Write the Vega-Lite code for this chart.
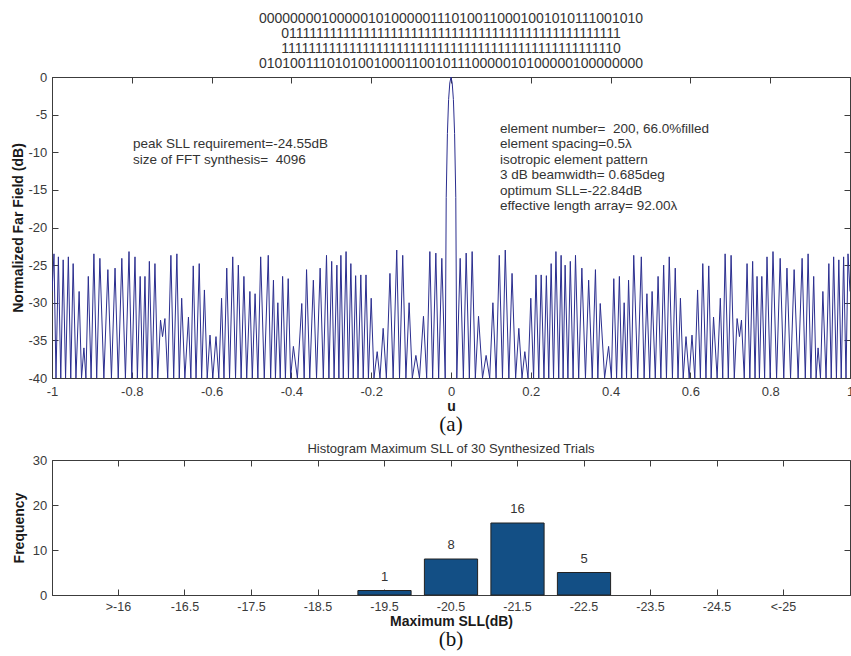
{
  "$schema": "https://vega.github.io/schema/vega-lite/v6.json",
  "background": "white",
  "padding": {"left": 11, "top": 11, "right": 0, "bottom": 0},
  "autosize": {"type": "pad"},
  "align": "all",
  "spacing": 6,
  "datasets": {
    "pattern": [
      {"u":-1.000,"dB":-28.5},
      {"u":-0.995,"dB":-23.5},{"u":-0.990,"dB":-40},
      {"u":-0.984,"dB":-23.9},{"u":-0.978,"dB":-40},
      {"u":-0.972,"dB":-24.3},{"u":-0.966,"dB":-40},
      {"u":-0.959,"dB":-23.9},{"u":-0.953,"dB":-40},
      {"u":-0.947,"dB":-24.8},{"u":-0.940,"dB":-40},
      {"u":-0.932,"dB":-28.5},{"u":-0.926,"dB":-40},
      {"u":-0.920,"dB":-36.0},{"u":-0.915,"dB":-40},
      {"u":-0.909,"dB":-26.5},{"u":-0.902,"dB":-40},
      {"u":-0.895,"dB":-23.5},{"u":-0.888,"dB":-40},
      {"u":-0.880,"dB":-24.1},{"u":-0.870,"dB":-40},
      {"u":-0.860,"dB":-25.6},{"u":-0.851,"dB":-40},
      {"u":-0.842,"dB":-25.4},{"u":-0.834,"dB":-40},
      {"u":-0.825,"dB":-24.1},{"u":-0.816,"dB":-40},
      {"u":-0.807,"dB":-23.2},{"u":-0.800,"dB":-40},
      {"u":-0.792,"dB":-23.9},{"u":-0.786,"dB":-40},
      {"u":-0.779,"dB":-26.5},{"u":-0.773,"dB":-40},
      {"u":-0.767,"dB":-26.5},{"u":-0.762,"dB":-40},
      {"u":-0.756,"dB":-24.5},{"u":-0.749,"dB":-40},
      {"u":-0.742,"dB":-24.8},{"u":-0.735,"dB":-40},
      {"u":-0.728,"dB":-32.3},{"u":-0.723,"dB":-34.5},
      {"u":-0.717,"dB":-32.1},{"u":-0.710,"dB":-40},
      {"u":-0.702,"dB":-23.7},{"u":-0.695,"dB":-40},
      {"u":-0.687,"dB":-23.5},{"u":-0.681,"dB":-40},
      {"u":-0.675,"dB":-29.4},{"u":-0.667,"dB":-40},
      {"u":-0.658,"dB":-31.9},{"u":-0.652,"dB":-40},
      {"u":-0.646,"dB":-25.1},{"u":-0.639,"dB":-40},
      {"u":-0.631,"dB":-24.8},{"u":-0.625,"dB":-40},
      {"u":-0.618,"dB":-28.3},{"u":-0.611,"dB":-40},
      {"u":-0.604,"dB":-34.3},{"u":-0.597,"dB":-40},
      {"u":-0.589,"dB":-34.5},{"u":-0.582,"dB":-40},
      {"u":-0.575,"dB":-29.4},{"u":-0.569,"dB":-40},
      {"u":-0.562,"dB":-25.4},{"u":-0.555,"dB":-40},
      {"u":-0.547,"dB":-23.9},{"u":-0.540,"dB":-40},
      {"u":-0.533,"dB":-25.0},{"u":-0.526,"dB":-40},
      {"u":-0.519,"dB":-26.5},{"u":-0.512,"dB":-40},
      {"u":-0.504,"dB":-28.5},{"u":-0.498,"dB":-40},
      {"u":-0.491,"dB":-28.8},{"u":-0.484,"dB":-40},
      {"u":-0.477,"dB":-23.9},{"u":-0.468,"dB":-40},
      {"u":-0.458,"dB":-23.7},{"u":-0.452,"dB":-40},
      {"u":-0.445,"dB":-27.0},{"u":-0.440,"dB":-40},
      {"u":-0.434,"dB":-30.0},{"u":-0.428,"dB":-40},
      {"u":-0.422,"dB":-26.5},{"u":-0.415,"dB":-40},
      {"u":-0.408,"dB":-26.8},{"u":-0.402,"dB":-40},
      {"u":-0.395,"dB":-35.8},{"u":-0.385,"dB":-40},
      {"u":-0.374,"dB":-30.1},{"u":-0.368,"dB":-40},
      {"u":-0.362,"dB":-25.6},{"u":-0.354,"dB":-40},
      {"u":-0.345,"dB":-27.0},{"u":-0.337,"dB":-40},
      {"u":-0.328,"dB":-25.4},{"u":-0.320,"dB":-40},
      {"u":-0.312,"dB":-23.7},{"u":-0.306,"dB":-40},
      {"u":-0.299,"dB":-24.5},{"u":-0.293,"dB":-40},
      {"u":-0.286,"dB":-25.0},{"u":-0.281,"dB":-40},
      {"u":-0.276,"dB":-23.7},{"u":-0.270,"dB":-40},
      {"u":-0.263,"dB":-23.2},{"u":-0.257,"dB":-40},
      {"u":-0.251,"dB":-24.8},{"u":-0.245,"dB":-40},
      {"u":-0.239,"dB":-26.4},{"u":-0.233,"dB":-40},
      {"u":-0.226,"dB":-26.3},{"u":-0.220,"dB":-40},
      {"u":-0.213,"dB":-26.3},{"u":-0.207,"dB":-40},
      {"u":-0.200,"dB":-29.4},{"u":-0.193,"dB":-40},
      {"u":-0.185,"dB":-36.5},{"u":-0.178,"dB":-40},
      {"u":-0.170,"dB":-33.4},{"u":-0.162,"dB":-40},
      {"u":-0.153,"dB":-26.1},{"u":-0.145,"dB":-40},
      {"u":-0.136,"dB":-23.0},{"u":-0.129,"dB":-40},
      {"u":-0.121,"dB":-23.7},{"u":-0.113,"dB":-40},
      {"u":-0.105,"dB":-30.0},{"u":-0.097,"dB":-40},
      {"u":-0.088,"dB":-37.0},{"u":-0.079,"dB":-40},
      {"u":-0.069,"dB":-31.8},{"u":-0.061,"dB":-40},
      {"u":-0.053,"dB":-23.2},{"u":-0.046,"dB":-40},
      {"u":-0.038,"dB":-23.4},{"u":-0.031,"dB":-40},
      {"u":-0.023,"dB":-24.1},{"u":-0.0145,"dB":-40},
      {"u":-0.012,"dB":-16},{"u":-0.009,"dB":-7.5},{"u":-0.006,"dB":-3},{"u":-0.003,"dB":-0.8},
      {"u":0,"dB":0},
      {"u":0.003,"dB":-0.8},{"u":0.006,"dB":-3},{"u":0.009,"dB":-7.5},{"u":0.012,"dB":-16},
      {"u":0.0145,"dB":-40},{"u":0.023,"dB":-24.1},
      {"u":0.031,"dB":-40},{"u":0.038,"dB":-23.4},
      {"u":0.046,"dB":-40},{"u":0.053,"dB":-23.2},
      {"u":0.061,"dB":-40},{"u":0.069,"dB":-31.8},
      {"u":0.079,"dB":-40},{"u":0.088,"dB":-37.0},
      {"u":0.097,"dB":-40},{"u":0.105,"dB":-30.0},
      {"u":0.113,"dB":-40},{"u":0.121,"dB":-23.7},
      {"u":0.129,"dB":-40},{"u":0.136,"dB":-23.0},
      {"u":0.145,"dB":-40},{"u":0.153,"dB":-26.1},
      {"u":0.162,"dB":-40},{"u":0.170,"dB":-33.4},
      {"u":0.178,"dB":-40},{"u":0.185,"dB":-36.5},
      {"u":0.193,"dB":-40},{"u":0.200,"dB":-29.4},
      {"u":0.207,"dB":-40},{"u":0.213,"dB":-26.3},
      {"u":0.220,"dB":-40},{"u":0.226,"dB":-26.3},
      {"u":0.233,"dB":-40},{"u":0.239,"dB":-26.4},
      {"u":0.245,"dB":-40},{"u":0.251,"dB":-24.8},
      {"u":0.257,"dB":-40},{"u":0.263,"dB":-23.2},
      {"u":0.270,"dB":-40},{"u":0.276,"dB":-23.7},
      {"u":0.281,"dB":-40},{"u":0.286,"dB":-25.0},
      {"u":0.293,"dB":-40},{"u":0.299,"dB":-24.5},
      {"u":0.306,"dB":-40},{"u":0.312,"dB":-23.7},
      {"u":0.320,"dB":-40},{"u":0.328,"dB":-25.4},
      {"u":0.337,"dB":-40},{"u":0.345,"dB":-27.0},
      {"u":0.354,"dB":-40},{"u":0.362,"dB":-25.6},
      {"u":0.368,"dB":-40},{"u":0.374,"dB":-30.1},
      {"u":0.385,"dB":-40},{"u":0.395,"dB":-35.8},
      {"u":0.402,"dB":-40},{"u":0.408,"dB":-26.8},
      {"u":0.415,"dB":-40},{"u":0.422,"dB":-26.5},
      {"u":0.428,"dB":-40},{"u":0.434,"dB":-30.0},
      {"u":0.440,"dB":-40},{"u":0.445,"dB":-27.0},
      {"u":0.452,"dB":-40},{"u":0.458,"dB":-23.7},
      {"u":0.468,"dB":-40},{"u":0.477,"dB":-23.9},
      {"u":0.484,"dB":-40},{"u":0.491,"dB":-28.8},
      {"u":0.498,"dB":-40},{"u":0.504,"dB":-28.5},
      {"u":0.512,"dB":-40},{"u":0.519,"dB":-26.5},
      {"u":0.526,"dB":-40},{"u":0.533,"dB":-25.0},
      {"u":0.540,"dB":-40},{"u":0.547,"dB":-23.9},
      {"u":0.555,"dB":-40},{"u":0.562,"dB":-25.4},
      {"u":0.569,"dB":-40},{"u":0.575,"dB":-29.4},
      {"u":0.582,"dB":-40},{"u":0.589,"dB":-34.5},
      {"u":0.597,"dB":-40},{"u":0.604,"dB":-34.3},
      {"u":0.611,"dB":-40},{"u":0.618,"dB":-28.3},
      {"u":0.625,"dB":-40},{"u":0.631,"dB":-24.8},
      {"u":0.639,"dB":-40},{"u":0.646,"dB":-25.1},
      {"u":0.652,"dB":-40},{"u":0.658,"dB":-31.9},
      {"u":0.667,"dB":-40},{"u":0.675,"dB":-29.4},
      {"u":0.681,"dB":-40},{"u":0.687,"dB":-23.5},
      {"u":0.695,"dB":-40},{"u":0.702,"dB":-23.7},
      {"u":0.710,"dB":-40},{"u":0.717,"dB":-32.1},
      {"u":0.723,"dB":-34.5},{"u":0.728,"dB":-32.3},
      {"u":0.735,"dB":-40},{"u":0.742,"dB":-24.8},
      {"u":0.749,"dB":-40},{"u":0.756,"dB":-24.5},
      {"u":0.762,"dB":-40},{"u":0.767,"dB":-26.5},
      {"u":0.773,"dB":-40},{"u":0.779,"dB":-26.5},
      {"u":0.786,"dB":-40},{"u":0.792,"dB":-23.9},
      {"u":0.800,"dB":-40},{"u":0.807,"dB":-23.2},
      {"u":0.816,"dB":-40},{"u":0.825,"dB":-24.1},
      {"u":0.834,"dB":-40},{"u":0.842,"dB":-25.4},
      {"u":0.851,"dB":-40},{"u":0.860,"dB":-25.6},
      {"u":0.870,"dB":-40},{"u":0.880,"dB":-24.1},
      {"u":0.888,"dB":-40},{"u":0.895,"dB":-23.5},
      {"u":0.902,"dB":-40},{"u":0.909,"dB":-26.5},
      {"u":0.915,"dB":-40},{"u":0.920,"dB":-36.0},
      {"u":0.926,"dB":-40},{"u":0.932,"dB":-28.5},
      {"u":0.940,"dB":-40},{"u":0.947,"dB":-24.8},
      {"u":0.953,"dB":-40},{"u":0.959,"dB":-23.9},
      {"u":0.966,"dB":-40},{"u":0.972,"dB":-24.3},
      {"u":0.978,"dB":-40},{"u":0.984,"dB":-23.9},
      {"u":0.990,"dB":-40},{"u":0.995,"dB":-23.5},
      {"u":1.000,"dB":-28.5}
    ],
    "hist": [
      {"bin": ">-16", "count": 0},
      {"bin": "-16.5", "count": 0},
      {"bin": "-17.5", "count": 0},
      {"bin": "-18.5", "count": 0},
      {"bin": "-19.5", "count": 1},
      {"bin": "-20.5", "count": 8},
      {"bin": "-21.5", "count": 16},
      {"bin": "-22.5", "count": 5},
      {"bin": "-23.5", "count": 0},
      {"bin": "-24.5", "count": 0},
      {"bin": "<-25", "count": 0}
    ]
  },
  "vconcat": [
    {
      "width": 798,
      "height": 301,
      "title": {
        "text": [
          "00000000100000101000001110100110001001010111001010",
          "01111111111111111111111111111111111111111111111111",
          "11111111111111111111111111111111111111111111111110",
          "01010011101010010001100101110000010100000100000000"
        ],
        "font": "Liberation Sans",
        "fontSize": 14,
        "fontWeight": "normal",
        "color": "#333333",
        "lineHeight": 15,
        "offset": 0,
        "anchor": "middle"
      },
      "layer": [
        {
          "data": {"name": "pattern"},
          "mark": {"type": "line", "color": "#2b2e8f", "strokeWidth": 1, "clip": true},
          "encoding": {
            "x": {
              "field": "u", "type": "quantitative",
              "scale": {"domain": [-1, 1], "nice": false, "zero": false},
              "axis": {
                "orient": "bottom",
                "values": [-1, -0.8, -0.6, -0.4, -0.2, 0, 0.2, 0.4, 0.6, 0.8, 1],
                "format": "~g",
                "labelPadding": 13.3,
                "title": "u",
                "titlePadding": 1
              }
            },
            "y": {
              "field": "dB", "type": "quantitative",
              "scale": {"domain": [-40, 0], "nice": false, "zero": false},
              "axis": {
                "orient": "left",
                "values": [-40, -35, -30, -25, -20, -15, -10, -5, 0],
                "format": "~g",
                "labelPadding": 11.3,
                "title": "Normalized Far Field (dB)",
                "titlePadding": 2
              }
            }
          }
        },
        {
          "data": {"values": [{}]},
          "mark": {
            "type": "text",
            "text": ["peak SLL requirement=-24.55dB", "size of FFT synthesis=\u00a0 4096"],
            "align": "left", "baseline": "middle", "lineHeight": 15.5,
            "font": "Liberation Sans", "fontSize": 13.5, "color": "#333333"
          },
          "encoding": {
            "x": {
              "datum": -0.797, "type": "quantitative",
              "axis": {"orient": "top", "labels": false, "title": null, "domain": false,
                       "values": [-1, -0.8, -0.6, -0.4, -0.2, 0, 0.2, 0.4, 0.6, 0.8, 1]}
            },
            "y": {
              "datum": -8.97, "type": "quantitative",
              "axis": {"orient": "right", "labels": false, "title": null, "domain": false,
                       "values": [-40, -35, -30, -25, -20, -15, -10, -5, 0]}
            }
          }
        },
        {
          "data": {"values": [{}]},
          "mark": {
            "type": "text",
            "text": [
              "element number=\u00a0 200, 66.0%filled",
              "element spacing=0.5λ",
              "isotropic element pattern",
              "3 dB beamwidth= 0.685deg",
              "optimum SLL=-22.84dB",
              "effective length array= 92.00λ"
            ],
            "align": "left", "baseline": "middle", "lineHeight": 15.5,
            "font": "Liberation Sans", "fontSize": 13.5, "color": "#333333"
          },
          "encoding": {
            "x": {"datum": 0.1228, "type": "quantitative", "axis": null},
            "y": {"datum": -6.91, "type": "quantitative", "axis": null}
          }
        },
        {
          "data": {"values": [{}]},
          "mark": {
            "type": "text", "text": "(a)", "align": "center", "baseline": "middle",
            "font": "Liberation Serif", "fontSize": 21, "color": "#111111"
          },
          "encoding": {
            "x": {"datum": 0, "type": "quantitative", "axis": null},
            "y": {"datum": -46.25, "type": "quantitative", "axis": null}
          }
        }
      ],
      "resolve": {"axis": {"x": "independent", "y": "independent"}}
    },
    {
      "width": 798,
      "height": 135,
      "title": {
        "text": "Histogram Maximum SLL of 30 Synthesized Trials",
        "font": "Liberation Sans",
        "fontSize": 13,
        "fontWeight": "normal",
        "color": "#333333",
        "offset": -2,
        "anchor": "middle"
      },
      "layer": [
        {
          "data": {"name": "hist"},
          "transform": [{"filter": "datum.count > 0"}],
          "mark": {"type": "bar", "color": "#134f85", "stroke": "#222222", "strokeWidth": 1},
          "encoding": {
            "x": {
              "field": "bin", "type": "nominal", "sort": null,
              "scale": {
                "domain": [">-16", "-16.5", "-17.5", "-18.5", "-19.5", "-20.5", "-21.5", "-22.5", "-23.5", "-24.5", "<-25"],
                "paddingInner": 0.2, "paddingOuter": 0.6
              },
              "axis": {
                "orient": "bottom", "labelAngle": 0, "bandPosition": 0.5,
                "labelFontSize": 12.5, "labelPadding": 11,
                "title": "Maximum SLL(dB)", "titlePadding": 2
              }
            },
            "y": {
              "field": "count", "type": "quantitative",
              "scale": {"domain": [0, 30], "nice": false},
              "axis": {
                "orient": "left", "values": [0, 10, 20, 30],
                "labelPadding": 11.3, "title": "Frequency", "titlePadding": 6
              }
            }
          }
        },
        {
          "data": {"name": "hist"},
          "transform": [{"filter": "datum.count > 0"}],
          "mark": {
            "type": "text", "baseline": "bottom", "dy": -7,
            "font": "Liberation Sans", "fontSize": 13, "color": "#333333"
          },
          "encoding": {
            "x": {
              "field": "bin", "type": "nominal", "sort": null,
              "axis": {"orient": "top", "labels": false, "title": null, "domain": false, "bandPosition": 0.5}
            },
            "y": {
              "field": "count", "type": "quantitative",
              "axis": {"orient": "right", "labels": false, "title": null, "domain": false, "values": [0, 10, 20, 30]}
            },
            "text": {"field": "count", "type": "quantitative"}
          }
        },
        {
          "data": {"values": [{}]},
          "mark": {
            "type": "text", "text": "(b)", "align": "center", "baseline": "middle",
            "font": "Liberation Serif", "fontSize": 21, "color": "#111111"
          },
          "encoding": {
            "x": {"datum": "-20.5", "type": "nominal", "axis": null},
            "y": {"datum": -10, "type": "quantitative", "axis": null}
          }
        }
      ],
      "resolve": {"axis": {"x": "independent", "y": "independent"}}
    }
  ],
  "config": {
    "font": "Liberation Sans",
    "view": {"stroke": "#3c3c3c", "strokeWidth": 1},
    "axis": {
      "domainColor": "#3c3c3c",
      "tickColor": "#3c3c3c",
      "labelColor": "#3a3a3a",
      "labelFont": "Liberation Sans",
      "labelFontSize": 13,
      "titleFont": "Liberation Sans",
      "titleFontSize": 14,
      "titleFontWeight": "bold",
      "titleColor": "#1a1a1a",
      "grid": false,
      "tickSize": -6,
      "labelFlush": false,
      "labelOverlap": false
    },
    "locale": {
      "number": {"decimal": ".", "thousands": ",", "grouping": [3], "currency": ["$", ""], "minus": "-"}
    }
  }
}
